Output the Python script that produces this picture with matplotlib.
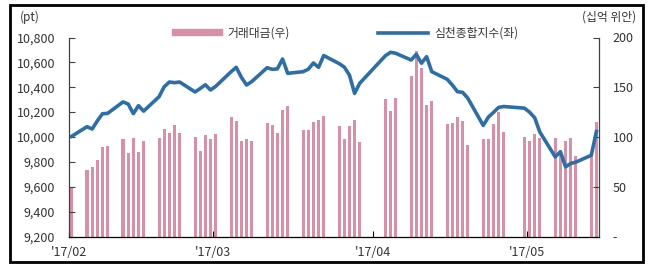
import numpy as np
import pandas as pd
import matplotlib
matplotlib.use('Agg')
import matplotlib.pyplot as plt
from matplotlib.patches import Rectangle, Patch
from matplotlib.lines import Line2D

plt.rcParams['font.family'] = ['Noto Sans CJK KR', 'DejaVu Sans']

# trading days (Shenzhen), Feb 3 - May 16 2017, minus holidays
START = '2017-02-03'
END = '2017-05-16'
HOLIDAYS = ['2017-04-03', '2017-04-04', '2017-05-01']

# 심천종합지수 (pt, left axis)
index_pt = [
    10005,
    10083, 10064, 10129, 10187, 10190,
    10282, 10265, 10188, 10252, 10208,
    10324, 10404, 10442, 10437, 10442,
    10362, 10390, 10420, 10378, 10407,
    10525, 10560, 10480, 10418, 10445,
    10557, 10544, 10548, 10627, 10512,
    10525, 10545, 10595, 10560, 10655,
    10590, 10562, 10498, 10351, 10432,
    10654, 10681, 10673,
    10619, 10665, 10593, 10646, 10525,
    10464, 10418, 10364, 10359, 10312,
    10093, 10160, 10198, 10238, 10245,
    10232, 10200, 10155, 10040,
    9840, 9882, 9760, 9787, 9798,
    9853, 10045,
]

# 거래대금 (십억 위안, right axis)
turnover = [
    50,
    67, 70, 77, 90, 91,
    98, 84, 99, 85, 96,
    99, 108, 104, 112, 104,
    100, 86, 102, 98, 103,
    120, 116, 96, 98, 96,
    114, 112, 104, 127, 131,
    107, 107, 115, 117, 121,
    111, 98, 111, 117, 95,
    138, 126, 139,
    161, 186, 169, 132, 136,
    113, 114, 120, 116, 92,
    98, 98, 113, 125, 105,
    100, 96, 103, 99,
    99, 85, 96, 99, 81,
    85, 115,
]

tick_dates = ['2017-02-03', '2017-03-03', '2017-04-03', '2017-05-03']
tick_labels = ["'17/02", "'17/03", "'17/04", "'17/05"]

left_ticks = list(range(9200, 10801, 200))
right_ticks = [0, 50, 100, 150, 200]
right_labels = ['-', '50', '100', '150', '200']

BLUE = '#2E6EA6'
PINK = '#D890A6'
TXT = '#333333'

days = pd.bdate_range(START, END)
days = days[~days.isin(pd.to_datetime(HOLIDAYS))]
t0 = pd.Timestamp(START)
x = np.array((days - t0).days, dtype=float)
xt = [(pd.Timestamp(d) - t0).days - 0.5 for d in tick_dates]
last = (pd.Timestamp(END) - t0).days

W, H = 654, 264
fig = plt.figure(figsize=(W / 100, H / 100), dpi=100)
ax = fig.add_axes([69 / W, 27.5 / H, 530 / W, 199 / H])
ax2 = ax.twinx()
ax.set_zorder(ax2.get_zorder() + 1)
ax.patch.set_visible(False)

ax2.bar(x, turnover, width=0.6, color=PINK, linewidth=0)
ax.plot(x, index_pt, color=BLUE, lw=2.6, solid_joinstyle='round')

ax.set_xlim(-0.5, last + 0.5)
ax.set_ylim(9200, 10800)
ax2.set_ylim(0, 200)

ax.set_yticks(left_ticks)
ax.set_yticklabels([f'{v:,}' for v in left_ticks])
ax2.set_yticks(right_ticks)
ax2.set_yticklabels(right_labels)
ax.set_xticks(xt)
ax.set_xticklabels(tick_labels)

for a in (ax, ax2):
    a.spines['top'].set_visible(False)
    for s in a.spines.values():
        s.set_color('#404040')
        s.set_linewidth(0.9)
ax.spines['right'].set_visible(False)
ax2.spines['left'].set_visible(False)
ax2.spines['bottom'].set_visible(False)
ax.spines['bottom'].set_color('black')

ax.tick_params(axis='y', direction='in', length=4, pad=10, labelsize=9,
               labelcolor=TXT, color='#404040')
ax2.tick_params(axis='y', direction='in', length=4, pad=10, labelsize=9,
                labelcolor=TXT, color='#404040')
ax.tick_params(axis='x', direction='in', length=4, pad=7, labelsize=9,
               labelcolor=TXT, color='black')

handles = [Patch(color=PINK), Line2D([], [], color=BLUE, lw=2.6)]
fig.legend(handles, ['거래대금(우)', '심천종합지수(좌)'], ncol=2, loc='center',
           bbox_to_anchor=(345 / W, 1 - 33 / H), frameon=False,
           handlelength=4.2, handleheight=0.45, handletextpad=0.5,
           columnspacing=7.5, fontsize=8.5, labelcolor=TXT)

fig.text(20 / W, 1 - 17 / H, '(pt)', ha='left', va='center', fontsize=8.5, color=TXT)
fig.text(636 / W, 1 - 17 / H, '(십억 위안)', ha='right', va='center', fontsize=8.5, color=TXT)

fig.add_artist(Rectangle((10 / W, 2 / H), 633 / W, 257.5 / H, transform=fig.transFigure,
                         fill=False, lw=2, ec='black'))

fig.savefig('out.png', dpi=100)
